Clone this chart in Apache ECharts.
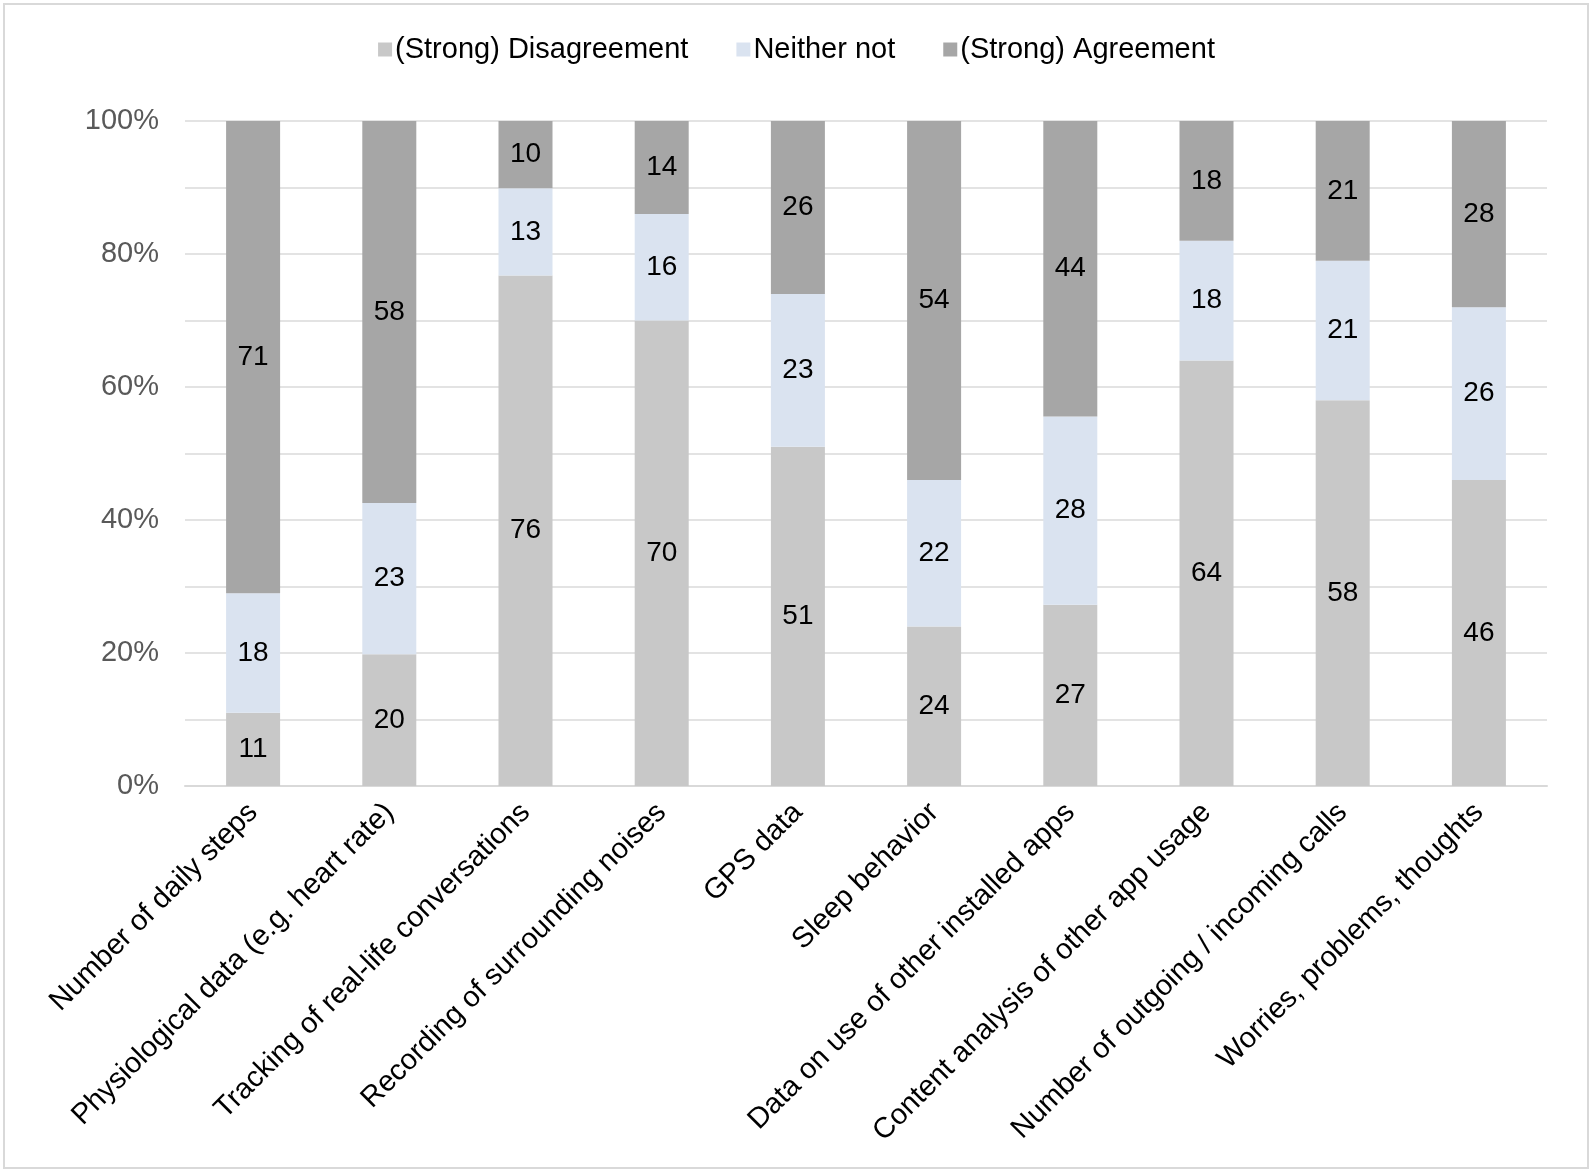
<!DOCTYPE html>
<html>
<head>
<meta charset="utf-8">
<script src="https://cdn.jsdelivr.net/npm/echarts@6/dist/echarts.min.js"></script>
<style>
  html, body { margin: 0; padding: 0; background: #fff; }
  #show { width: 1593px; height: 1174px; }
</style>
</head>
<body>
<div id="show"></div>
<script>
// categories on the x axis
var categories = [
  'Number of daily steps',
  'Physiological data (e.g. heart rate)',
  'Tracking of real-life conversations',
  'Recording of surrounding noises',
  'GPS data',
  'Sleep behavior',
  'Data on use of other installed apps',
  'Content analysis of other app usage',
  'Number of outgoing / incoming calls',
  'Worries, problems, thoughts'
];
// answers in percent
var disagreement = [11, 20, 76, 70, 51, 24, 27, 64, 58, 46];
var neither      = [18, 23, 13, 16, 23, 22, 28, 18, 21, 26];
var agreement    = [71, 58, 10, 14, 26, 54, 44, 18, 21, 28];
var yTicks = [0, 20, 40, 60, 80, 100];

// 100% stacked: scale each bar to its total, keep raw number as label
function share(arr, i) {
  var total = disagreement[i] + neither[i] + agreement[i];
  return { value: arr[i] / total * 100, raw: arr[i] };
}
function build(arr) {
  var out = [];
  for (var i = 0; i < arr.length; i++) out.push(share(arr, i));
  return out;
}

var labelStyle = {
  show: true,
  position: 'inside',
  color: '#000',
  fontSize: 28,
  fontFamily: 'Liberation Sans, Arial, sans-serif',
  formatter: function (p) { return p.data.raw; }
};

var myChart = echarts.init(document.getElementById('show'));
myChart.setOption({
  backgroundColor: '#fff',
  animation: false,
  textStyle: { fontFamily: 'Liberation Sans, Arial, sans-serif' },
  graphic: [{
    type: 'rect',
    shape: { x: 4, y: 4, width: 1584, height: 1164 },
    style: { fill: 'none', stroke: '#d9d9d9', lineWidth: 2 }
  }],
  legend: {
    top: 30,
    left: 'center',
    itemWidth: 14,
    itemHeight: 14,
    itemGap: 48,
    itemStyle: { borderWidth: 0 },
    icon: 'rect',
    textStyle: { fontSize: 29, color: '#000', padding: [0, 0, 0, -2] },
    data: ['(Strong) Disagreement', 'Neither not', '(Strong) Agreement']
  },
  grid: { left: 185, right: 46, top: 121, bottom: 388 },
  xAxis: {
    type: 'category',
    data: categories,
    axisTick: { show: false },
    axisLine: { lineStyle: { color: '#d9d9d9', width: 2 } },
    axisLabel: {
      rotate: 45,
      interval: 0,
      margin: 22,
      fontSize: 29,
      color: '#000'
    }
  },
  yAxis: {
    type: 'value',
    min: 0,
    max: 100,
    interval: 10,
    axisLine: { show: false },
    axisTick: { show: false },
    splitLine: { lineStyle: { color: '#e3e3e3', width: 2 } },
    axisLabel: {
      fontSize: 29,
      color: '#595959',
      margin: 26,
      formatter: function (v) {
        return yTicks.indexOf(v) >= 0 ? v + '%' : '';
      }
    }
  },
  series: [{
    name: '(Strong) Disagreement',
    type: 'bar',
    stack: 'all',
    barWidth: 54,
    itemStyle: { color: '#c8c8c8' },
    label: labelStyle,
    data: build(disagreement)
  }, {
    name: 'Neither not',
    type: 'bar',
    stack: 'all',
    barWidth: 54,
    itemStyle: { color: '#dae3f0' },
    label: labelStyle,
    data: build(neither)
  }, {
    name: '(Strong) Agreement',
    type: 'bar',
    stack: 'all',
    barWidth: 54,
    itemStyle: { color: '#a6a6a6' },
    label: labelStyle,
    data: build(agreement)
  }]
});
</script>
</body>
</html>
